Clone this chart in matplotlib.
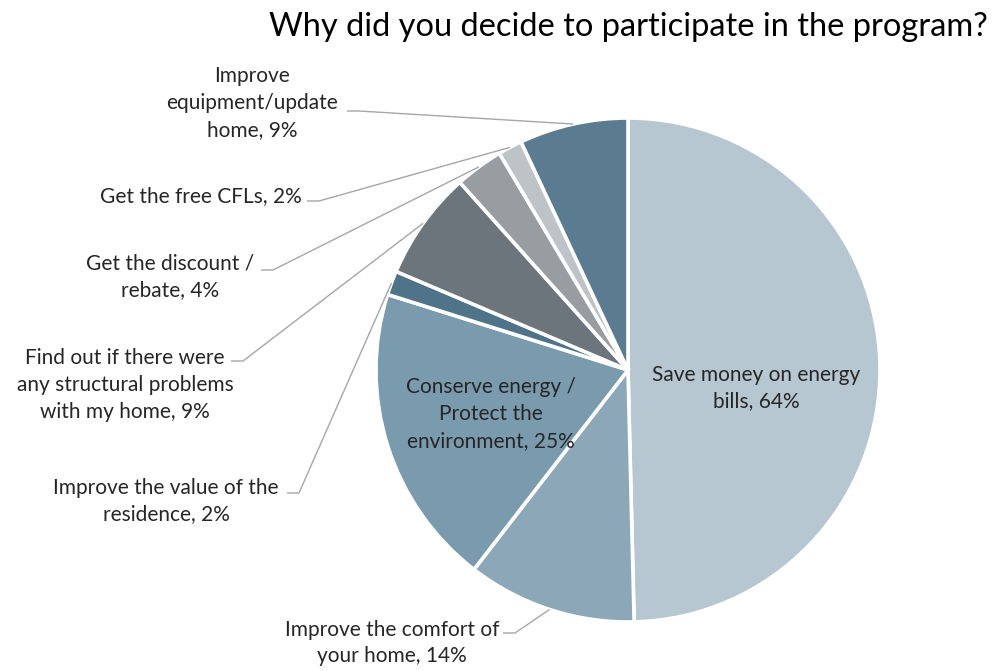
import numpy as np
import matplotlib
matplotlib.use("Agg")
import matplotlib.pyplot as plt

plt.rcParams['font.family'] = ['Lato', 'DejaVu Sans']

# survey answers (multiple choice, so shares add to more than 100%)
reasons = [
    "Save money on energy\nbills, 64%",
    "Improve the comfort of\nyour home, 14%",
    "Conserve energy /\nProtect the\nenvironment, 25%",
    "Improve the value of the\nresidence, 2%",
    "Find out if there were\nany structural problems\nwith my home, 9%",
    "Get the discount /\nrebate, 4%",
    "Get the free CFLs, 2%",
    "Improve\nequipment/update\nhome, 9%",
]
shares = [64, 14, 25, 2, 9, 4, 2, 9]
colors = ["#B7C7D1", "#8CA8B8", "#7A9AAE", "#4F7489",
          "#6C757C", "#989DA1", "#BDC3C7", "#5B7B90"]

W, H = 997, 671
FS = 15.0
LS = 1.42
fig = plt.figure(figsize=(W / 100, H / 100), dpi=100)
ax = fig.add_axes([0, 0, 1, 1])

cx, cy, r = 628, H - 370, 252
wedges, _ = ax.pie(shares, colors=colors, startangle=90, counterclock=False,
                   center=(cx, cy), radius=r, frame=True,
                   wedgeprops=dict(edgecolor='white', linewidth=2.6))
ax.set_xlim(0, W)
ax.set_ylim(0, H)
ax.set_aspect('equal')
ax.axis('off')

# labels inside the two big slices
ax.text(756, H - 388, reasons[0], ha='center', va='center', fontsize=FS,
        color='#262626', linespacing=LS)
ax.text(491, H - 414, reasons[2], ha='center', va='center', fontsize=FS,
        color='#262626', linespacing=LS)

# outside labels: (index, text x, text y, leader start x, leader y)
outside = [
    (7, 252, 103, 347, 111),
    (6, 201, 196, 307, 201),
    (5, 170, 277, 261, 270),
    (4, 125, 385, 231, 361),
    (3, 166, 501, 287, 493),
    (1, 392, 643, 503, 633),
]
for i, tx, ty, lx, ly in outside:
    w = wedges[i]
    mid = np.deg2rad((w.theta1 + w.theta2) / 2)
    ex = cx + r * np.cos(mid)
    ey = cy + r * np.sin(mid)
    ax.plot([lx, lx + 12, ex], [H - ly, H - ly, ey], color='#A6A6A6', lw=1.0,
            solid_capstyle='butt')
    ax.text(tx, H - ty, reasons[i], ha='center', va='center', fontsize=FS,
            color='#262626', linespacing=LS)

fig.text(988 / W, 1 - 27 / H, "Why did you decide to participate in the program?",
         ha='right', va='center', fontsize=23.5, color='black')

fig.savefig("out.png", dpi=100, facecolor='white')
